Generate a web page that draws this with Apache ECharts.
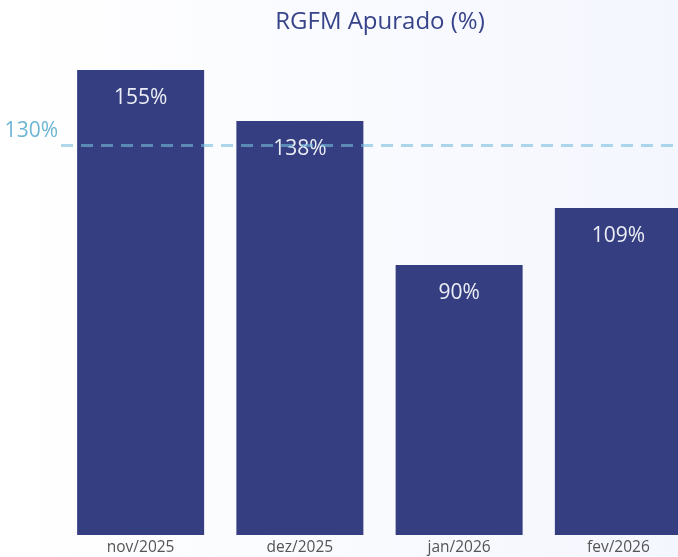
<!DOCTYPE html>
<html><head><meta charset="utf-8">
<script src="https://cdn.jsdelivr.net/npm/echarts@6/dist/echarts.min.js"></script>
<style>html,body{margin:0;padding:0;overflow:hidden;width:678px;height:557px;background:#f5f7fe;}#c{width:698px;height:557px;}</style>
</head><body><div id="c"></div>
<script>
var categories = ['nov/2025', 'dez/2025', 'jan/2026', 'fev/2026'];
var values = [155, 138, 90, 109];
var targetValue = 130;
var titleText = 'RGFM Apurado (%)';

var chart = echarts.init(document.getElementById('c'));
chart.setOption({
  animation: false,
  backgroundColor: {type: 'linear', x: 0, y: 0, x2: 1, y2: 0,
    colorStops: [{offset: 0, color: '#ffffff'}, {offset: 1, color: '#f4f6fe'}]},
  title: {text: titleText, left: 375, top: 5, textAlign: 'center',
    textStyle: {color: '#37448a', fontSize: 24, fontWeight: 'normal', fontFamily: 'Open Sans'}},
  grid: {left: 61, right: 0, top: 55, bottom: 22, containLabel: false},
  xAxis: {type: 'category', data: categories,
    axisLine: {show: false}, axisTick: {show: false},
    axisLabel: {color: '#555555', fontSize: 15.5, fontFamily: 'Open Sans', margin: 5}},
  yAxis: {type: 'value', min: 0, max: 160, show: false, splitLine: {show: false}},
  series: [{
    type: 'bar', data: values, barWidth: 127,
    itemStyle: {color: '#343e80'},
    label: {show: true, position: 'insideTop', distance: 18, formatter: '{c}%',
      color: '#eceef5', fontSize: 21, fontFamily: 'Open Sans'},
    markLine: {
      silent: true, symbol: 'none',
      lineStyle: {type: [12, 8], width: 3, color: 'rgba(120,190,220,0.6)'},
      label: {show: true, position: 'start', formatter: targetValue + '%', distance: 3,
        offset: [0, -14], color: '#6db5d3', fontSize: 21, fontFamily: 'Open Sans'},
      data: [{yAxis: targetValue}]
    }
  }]
});
</script></body></html>
